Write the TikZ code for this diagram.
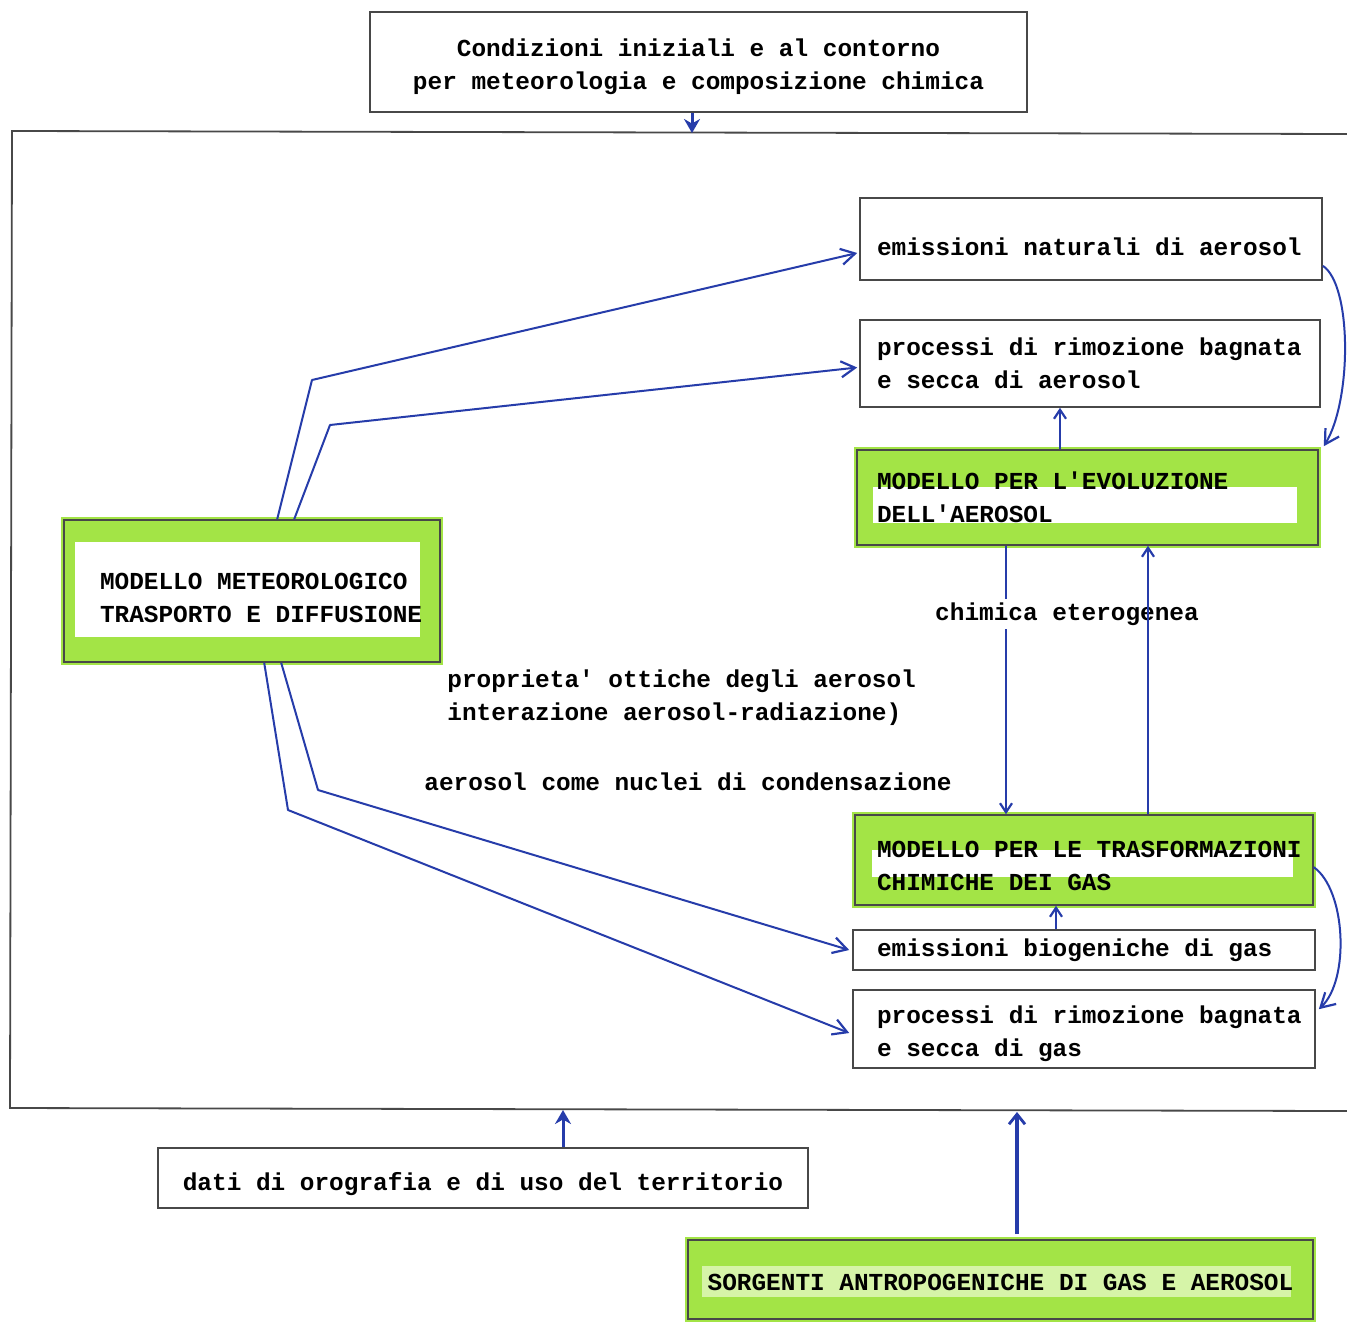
\documentclass[tikz,border=0pt]{standalone}
\usepackage{fontspec}
\setmonofont{Liberation Mono}
\usetikzlibrary{arrows.meta,calc}
\definecolor{hlgreen}{RGB}{163,228,70}
\definecolor{paleg}{RGB}{214,244,168}
\definecolor{conncol}{RGB}{38,60,170}
\definecolor{edgecol}{RGB}{72,72,72}
% push the first line down by #1 px and keep full monospace word spaces
\newcommand\dn[1]{\spaceskip=0pt\xspaceskip=0pt\relax\rule{0pt}{\dimexpr\fontcharht\font`d+#1pt\relax}}
% indent a line by #1 pt
\newcommand\ind[1]{\spaceskip=0pt\xspaceskip=0pt\relax\hspace*{#1pt}}
\tikzset{
  txt/.style={font=\ttfamily\bfseries\fontsize{12.2}{16.5}\selectfont},
  box/.style={draw=edgecol, line width=0.8pt, inner sep=0pt, rectangle, txt},
  lbox/.style={box, align=left, text width=225pt},
  cbox/.style={box, align=center},
  hl/.style n args={5}{preaction={draw=hlgreen, line width=3pt}, fill=hlgreen, path picture={
      \fill[#5] ($(path picture bounding box.north west)+(#1,#2)$)
        rectangle ($(path picture bounding box.south east)+(-#3,-#4)$);}},
  conn/.style={draw=conncol, line width=1pt, line join=round},
  barb/.style={-{Straight Barb[length=7pt,width=8pt,line width=1.1pt]}},
  sbarb/.style={-{Straight Barb[length=4.5pt,width=6pt,line width=1.1pt]}},
  frame/.style={draw=edgecol, line width=0.9pt},
}
\begin{document}
\begin{tikzpicture}[x=0.5pt,y=-0.5pt]
\fill[white] (0,0) rectangle (1347,1321);
\useasboundingbox (0,0) rectangle (1347,1321);

% frame
\coordinate (fTL) at (12,131);
\coordinate (fTR) at (1347,134);
\coordinate (fBL) at (10,1108);
\coordinate (fBR) at (1347,1111);
\draw[frame] (fTR) -- (fTL) -- (fBL) -- (fBR);
\coordinate (fTop) at (692,133);
\coordinate (fBot1) at (563,1110);
\coordinate (fBot2) at (1017,1112);

% boxes
\node[cbox, text width=320pt, minimum width=328.5pt, minimum height=50pt] (top) at (698.5,62)
  {\dn{5}Condizioni iniziali e al contorno\\\ind{0}per meteorologia e composizione chimica};
\node[lbox, minimum width=231pt, minimum height=41pt] (natA) at (1091,239)
  {\dn{8}\ind{5.5}emissioni naturali di aerosol};
\node[lbox, minimum width=230pt, minimum height=43.5pt] (remA) at (1090,363.5)
  {\dn{0}\ind{6}processi di rimozione bagnata\\\ind{6}e secca di aerosol};
\node[lbox, hl={16}{37}{21}{22}{white}, minimum width=230.5pt, minimum height=47.5pt] (modA) at (1087.5,497.5)
  {\dn{0}\ind{7.25}MODELLO PER L'EVOLUZIONE\\\ind{7.25}DELL'AEROSOL};
\node[box, align=left, text width=176pt, hl={11}{22}{20}{25}{white}, minimum width=188pt, minimum height=71pt] (meteo) at (252,591)
  {\dn{6}\ind{12}MODELLO METEOROLOGICO\\\ind{12}TRASPORTO E DIFFUSIONE};
\node[lbox, hl={17}{35}{20}{28}{white}, minimum width=229pt, minimum height=45pt] (modG) at (1084,860)
  {\dn{5}\ind{9}MODELLO PER LE TRASFORMAZIONI\\\ind{9}CHIMICHE DEI GAS};
\node[lbox, minimum width=231pt, minimum height=20pt] (bioG) at (1084,950)
  {\dn{0}\ind{9}emissioni biogeniche di gas};
\node[lbox, minimum width=231pt, minimum height=39pt] (remG) at (1084,1029)
  {\dn{5}\ind{9}processi di rimozione bagnata\\\ind{9}e secca di gas};
\node[cbox, text width=310pt, minimum width=325pt, minimum height=30pt] (dati) at (483,1178)
  {\dn{6}dati di orografia e di uso del territorio};
\node[cbox, text width=300pt, hl={14}{26}{22}{22}{paleg}, minimum width=312.5pt, minimum height=39.5pt] (sorg) at (1000.5,1279.5)
  {\dn{2}SORGENTI ANTROPOGENICHE DI GAS E AEROSOL};

% free labels
\node[txt, anchor=west, align=left, inner sep=0pt] (optl) at (447,698)
  {proprieta' ottiche degli aerosol\\interazione aerosol-radiazione)};
\node[txt, anchor=west, inner sep=0pt] (ccnl) at (424,782)
  {aerosol come nuclei di condensazione};

% vertical couplings between models
\coordinate (xL) at (1006,0);
\coordinate (xR) at (1148,0);
\draw[conn, sbarb] (modA.south -| xL) -- (modG.north -| xL);
\node[txt, fill=white, inner sep=2pt] (chet) at (1067,614) {chimica eterogenea};
\draw[conn, sbarb] (modG.north -| xR) -- (modA.south -| xR);

% meteo -> aerosol side
\draw[conn, barb] ($(meteo.north west)+(214,0)$) -- (312,380) -- ($(natA.west)+(-2,14)$);
\draw[conn, barb] ($(meteo.north west)+(231,0)$) -- (330,425) -- ($(remA.west)+(-2,4)$);
% meteo -> gas side
\draw[conn, barb] ($(meteo.south west)+(218,0)$) -- (318,790) -- ($(bioG.west)+(-3,0)$);
\draw[conn, barb] ($(meteo.south west)+(201,0)$) -- (288,810) -- ($(remG.west)+(-3,4)$);

% small vertical arrows
\coordinate (xA) at (1060,0);
\draw[conn, sbarb] (modA.north -| xA) -- (remA.south -| xA);
\coordinate (xG) at (1056,0);
\draw[conn, sbarb] (bioG.north -| xG) -- (modG.south -| xG);

% curved arrows on the right
\draw[conn, barb] ($(natA.south east)+(0,-15)$) .. controls (1352,285) and (1352,400) .. ($(modA.north east)+(5,-3)$);
\draw[conn, barb] ($(modG.north east)+(0,53)$) .. controls (1346,890) and (1350,980) .. ($(remG.north east)+(3,20)$);

% inputs to the frame
\draw[conn, line width=1.5pt, -{Stealth[length=7pt,width=8pt]}] (top.south -| fTop) -- (fTop);
\draw[conn, line width=1.5pt, -{Stealth[length=7pt,width=8pt]}] (dati.north -| fBot1) -- (fBot1);
\draw[conn, line width=1.6pt, -{Straight Barb[length=5pt,width=8pt,line width=1.4pt]}] ($(sorg.north -| fBot2)+(0,-5)$) -- (fBot2);
\end{tikzpicture}
\end{document}
